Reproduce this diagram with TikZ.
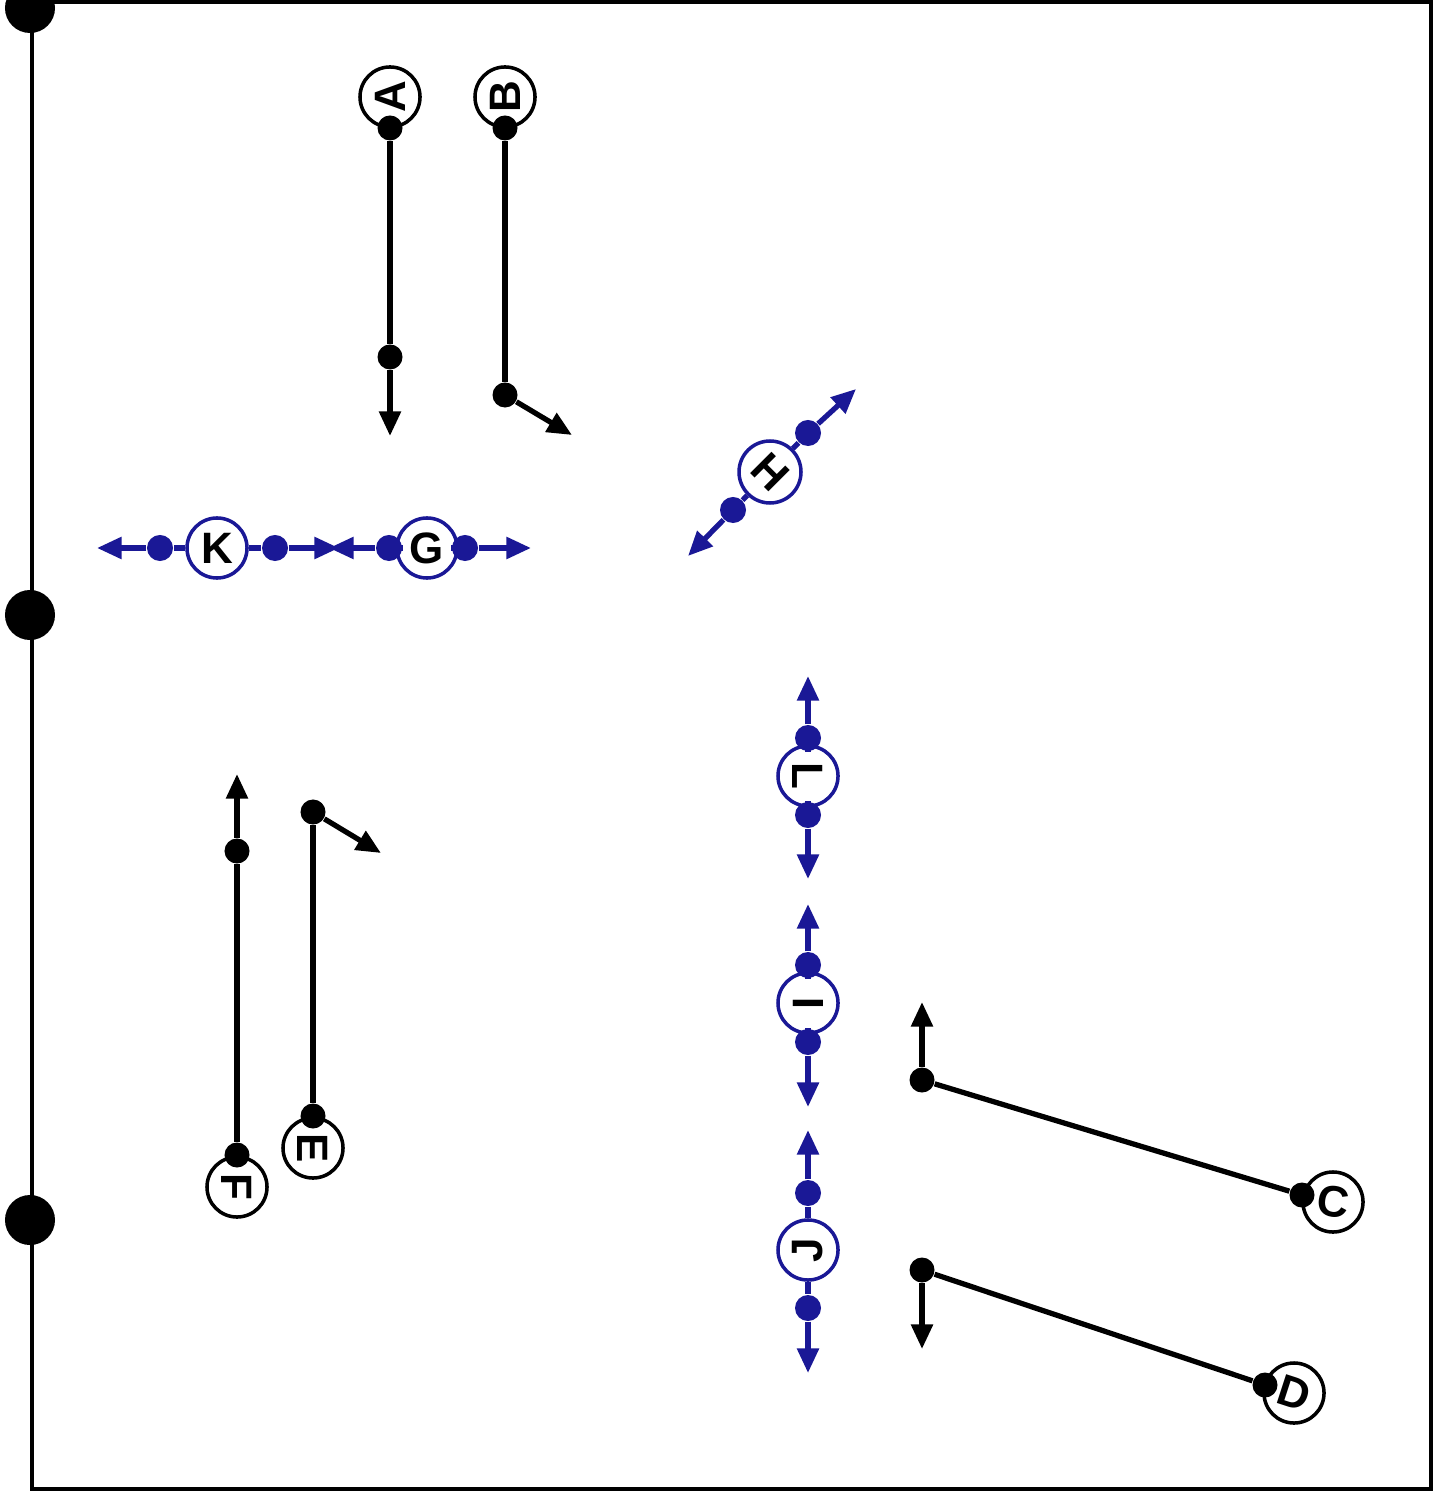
\documentclass[tikz,border=0pt]{standalone}
\usepackage{fontspec}
\setmainfont{Liberation Sans}
\usetikzlibrary{arrows.meta}
\definecolor{navy}{RGB}{26,24,150}
\tikzset{
  pk/.style={circle,draw=black,fill=white,line width=1pt,minimum size=0.6cm,inner sep=0pt,font=\bfseries\fontsize{12.5}{12.5}\selectfont},
  pb/.style={pk,draw=navy},
  dk/.style={circle,fill=black,minimum size=0.25cm,inner sep=0pt},
  db/.style={circle,fill=navy,minimum size=0.26cm,inner sep=0pt},
  bigdot/.style={circle,fill=black,minimum size=0.5cm,inner sep=0pt},
  kl/.style={draw=black,line width=1.5pt},
  bl/.style={draw=navy,line width=1.5pt},
  tip/.style={-{Triangle[length=7pt,width=6pt]}},
  frame/.style={draw=black,line width=0.9pt}
}
\begin{document}
\begin{tikzpicture}[x=0.01cm,y=-0.01cm]
\useasboundingbox (0,0) rectangle (1446,1492);
% frame
\coordinate (f1) at (32,2);
\coordinate (f2) at (1431,2);
\coordinate (f3) at (1431,1489);
\coordinate (f4) at (32,1489);
\draw[frame] (f1) -- (f2) -- (f3) -- (f4) -- cycle;
\node[bigdot] (n1) at (30,8) {};
\node[bigdot] (n2) at (30,615) {};
\node[bigdot] (n3) at (30,1220) {};

% A
\node[pk] (A) at (390,97) {\rotatebox{90}{A}};
\node[dk] (dA1) at (390,128) {};
\node[dk] (dA2) at (390,357) {};
\coordinate (tA) at (390,436);
\draw[kl] (dA1) -- (dA2);
\draw[kl,tip] (dA2) -- (tA);
% B
\node[pk] (B) at (505,97) {\rotatebox{90}{B}};
\node[dk] (dB1) at (505,128) {};
\node[dk] (dB2) at (505,395) {};
\coordinate (tB) at (572,435);
\draw[kl] (dB1) -- (dB2);
\draw[kl,tip] (dB2) -- (tB);
% E
\node[pk] (E) at (313,1148) {\rotatebox{-90}{E}};
\node[dk] (dE1) at (313,1116) {};
\node[dk] (dE2) at (313,812) {};
\coordinate (tE) at (381,853);
\draw[kl] (dE1) -- (dE2);
\draw[kl,tip] (dE2) -- (tE);
% F
\node[pk] (F) at (237,1187) {\rotatebox{-90}{F}};
\node[dk] (dF1) at (237,1155) {};
\node[dk] (dF2) at (237,851) {};
\coordinate (tF) at (237,774);
\draw[kl] (dF1) -- (dF2);
\draw[kl,tip] (dF2) -- (tF);
% C
\node[pk] (C) at (1333,1202) {\rotatebox{-8}{C}};
\node[dk] (dC1) at (1302,1195) {};
\node[dk] (dC2) at (922,1080) {};
\coordinate (tC) at (922,1002);
\draw[kl] (dC1) -- (dC2);
\draw[kl,tip] (dC2) -- (tC);
% D
\node[pk] (D) at (1294,1393) {\rotatebox{-18}{D}};
\node[dk] (dD1) at (1265,1385) {};
\node[dk] (dD2) at (922,1270) {};
\coordinate (tD) at (922,1349);
\draw[kl] (dD1) -- (dD2);
\draw[kl,tip] (dD2) -- (tD);

% K
\node[pb] (K) at (217,548) {K};
\node[db] (dK1) at (160,548) {};
\node[db] (dK2) at (275,548) {};
\coordinate (tK1) at (97,548);
\coordinate (tK2) at (339,548);
\draw[bl] (K) -- (dK1);
\draw[bl] (K) -- (dK2);
\draw[bl,tip] (dK1) -- (tK1);
\draw[bl,tip] (dK2) -- (tK2);
% G
\node[pb] (G) at (427,548) {G};
\node[db] (dG1) at (389,548) {};
\node[db] (dG2) at (465,548) {};
\coordinate (tG1) at (329,548);
\coordinate (tG2) at (531,548);
\draw[bl] (G) -- (dG1);
\draw[bl] (G) -- (dG2);
\draw[bl,tip] (dG1) -- (tG1);
\draw[bl,tip] (dG2) -- (tG2);
% H
\node[pb] (H) at (770,472) {\rotatebox{-45}{H}};
\node[db] (dH1) at (733,510) {};
\node[db] (dH2) at (808,433) {};
\coordinate (tH1) at (688,556);
\coordinate (tH2) at (856,389);
\draw[bl] (H) -- (dH1);
\draw[bl] (H) -- (dH2);
\draw[bl,tip] (dH1) -- (tH1);
\draw[bl,tip] (dH2) -- (tH2);
% L
\node[pb] (L) at (808,776) {\rotatebox{-90}{L}};
\node[db] (dL1) at (808,738) {};
\node[db] (dL2) at (808,815) {};
\coordinate (tL1) at (808,676);
\coordinate (tL2) at (808,879);
\draw[bl] (L) -- (dL1);
\draw[bl] (L) -- (dL2);
\draw[bl,tip] (dL1) -- (tL1);
\draw[bl,tip] (dL2) -- (tL2);
% I
\node[pb] (I) at (808,1003) {\rotatebox{90}{I}};
\node[db] (dI1) at (808,965) {};
\node[db] (dI2) at (808,1042) {};
\coordinate (tI1) at (808,904);
\coordinate (tI2) at (808,1107);
\draw[bl] (I) -- (dI1);
\draw[bl] (I) -- (dI2);
\draw[bl,tip] (dI1) -- (tI1);
\draw[bl,tip] (dI2) -- (tI2);
% J
\node[pb] (J) at (808,1250) {\rotatebox{90}{J}};
\node[db] (dJ1) at (808,1193) {};
\node[db] (dJ2) at (808,1308) {};
\coordinate (tJ1) at (808,1130);
\coordinate (tJ2) at (808,1373);
\draw[bl] (J) -- (dJ1);
\draw[bl] (J) -- (dJ2);
\draw[bl,tip] (dJ1) -- (tJ1);
\draw[bl,tip] (dJ2) -- (tJ2);
\end{tikzpicture}
\end{document}
